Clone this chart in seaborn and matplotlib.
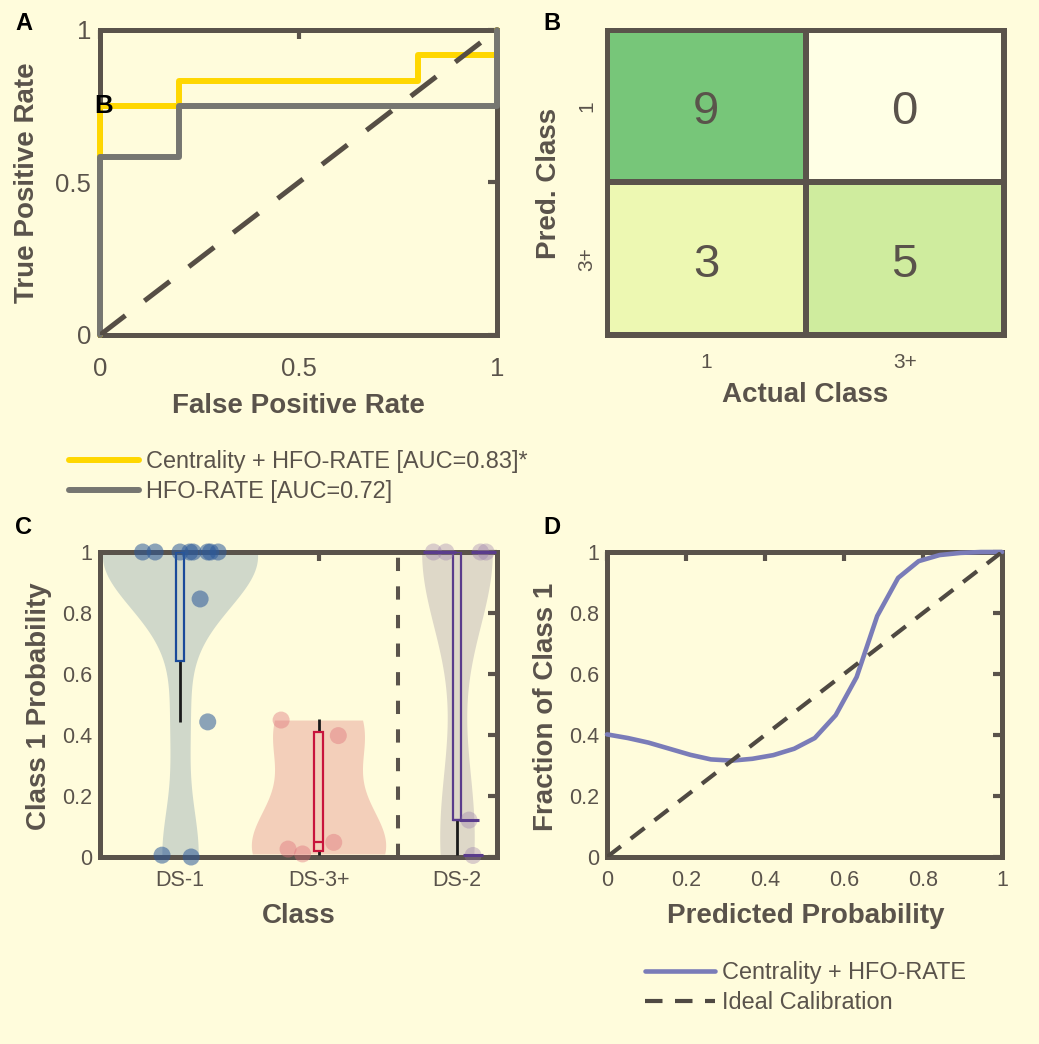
import numpy as np
import pandas as pd
import matplotlib
matplotlib.use("Agg")
import matplotlib.pyplot as plt
import seaborn as sns
from matplotlib.ticker import FuncFormatter
from matplotlib.transforms import offset_copy

# ---------------- data ----------------
roc_fpr_combined = [0.0, 0.0, 0.2, 0.2, 0.8, 0.8, 1.0, 1.0]
roc_tpr_combined = [0.0, 0.75, 0.75, 0.833, 0.833, 0.917, 0.917, 1.0]
roc_fpr_rate = [0.0, 0.0, 0.2, 0.2, 1.0, 1.0]
roc_tpr_rate = [0.0, 0.583, 0.583, 0.75, 0.75, 1.0]
roc_chance = [0.0, 1.0]
roc_labels = ["Centrality + HFO-RATE [AUC=0.83]*", "HFO-RATE [AUC=0.72]"]

cm_values = [[9, 0], [3, 5]]
cm_pred_labels = ["1", "3+"]
cm_actual_labels = ["1", "3+"]

class_names = ["DS-1", "DS-3+", "DS-2"]
ds1_prob = [1.0, 1.0, 1.0, 1.0, 1.0, 1.0, 1.0, 1.0, 0.846, 0.443, 0.006, 0.0]
ds1_jitter = [-0.27, -0.18, 0.0, 0.07, 0.094, 0.20, 0.22, 0.275, 0.145, 0.20, -0.13, 0.08]
ds3_prob = [0.449, 0.398, 0.048, 0.026, 0.01]
ds3_jitter = [-0.27, 0.143, 0.11, -0.22, -0.115]
ds2_prob = [1.0, 1.0, 1.0, 1.0, 0.121, 0.005]
ds2_jitter = [-0.17, -0.08, 0.17, 0.21, 0.087, 0.116]

box_q1 = [0.643, 0.02, 0.121]
box_q3 = [1.0, 0.41, 1.0]
box_median = [1.0, 0.048, 0.121]
whisk_low = [0.443, 0.005, 0.005]
whisk_high = [1.0, 0.451, 1.0]
divider_pos = 1.574

calib_pred = [0.0, 0.053, 0.105, 0.158, 0.211, 0.263, 0.316, 0.368, 0.421, 0.474,
              0.526, 0.579, 0.632, 0.684, 0.737, 0.789, 0.842, 0.895, 0.947, 1.0]
calib_frac = [0.402, 0.39, 0.375, 0.355, 0.335, 0.32, 0.316, 0.322, 0.334, 0.355,
              0.39, 0.465, 0.59, 0.79, 0.915, 0.97, 0.99, 0.997, 1.0, 1.0]
ideal_line = [0.0, 1.0]
calib_labels = ["Centrality + HFO-RATE", "Ideal Calibration"]

# ---------------- style ----------------
sns.set_theme(style="white")
plt.rcParams["font.family"] = ["Liberation Sans", "DejaVu Sans"]

BG = "#FFFCDC"
DARK = "#5A534B"
TXT = "#5A534B"
W, H = 1039, 1044

fig = plt.figure(figsize=(W / 100, H / 100), dpi=100)
fig.patch.set_facecolor(BG)


def px_axes(l, t, r, b):
    ax = fig.add_axes([l / W, 1 - b / H, (r - l) / W, (b - t) / H])
    ax.set_facecolor(BG)
    return ax


def style_axes(ax, xpad, ypad, labelsize):
    for s in ax.spines.values():
        s.set_visible(True)
        s.set_linewidth(3.6)
        s.set_color(DARK)
    ax.tick_params(axis="both", direction="in", length=6.5, width=3.0, color=DARK,
                   top=True, right=True, labelcolor=TXT, labelsize=labelsize)
    ax.tick_params(axis="x", pad=xpad)
    ax.tick_params(axis="y", pad=ypad)
    fmt = FuncFormatter(lambda v, p: f"{v:g}")
    ax.xaxis.set_major_formatter(fmt)
    ax.yaxis.set_major_formatter(fmt)
    ax.set_xlabel("")
    ax.set_ylabel("")


def fig_text(x, y, s, **kw):
    fig.text(x / W, 1 - y / H, s, ha="center", va="center", **kw)


LBL = dict(fontsize=20, fontweight="bold", color=TXT)

# ---------------- panel A : ROC ----------------
axA = px_axes(100, 30, 497, 335)
sns.lineplot(x=roc_fpr_combined, y=roc_tpr_combined, estimator=None, sort=False,
             color="#FFD700", linewidth=4.3, label=roc_labels[0], ax=axA,
             clip_on=False, zorder=4)
sns.lineplot(x=roc_fpr_rate, y=roc_tpr_rate, estimator=None, sort=False,
             color="#767671", linewidth=4.3, label=roc_labels[1], ax=axA,
             clip_on=False, zorder=5)
axA.plot(roc_chance, roc_chance, color="#564E45", linewidth=3.6,
         linestyle=(0, (6.4, 4.8)), zorder=6)
axA.set_xlim(0, 1)
axA.set_ylim(0, 1)
axA.set_xticks([0, 0.5, 1])
axA.set_yticks([0, 0.5, 1])
style_axes(axA, xpad=15.5, ypad=6.5, labelsize=18.5)
h, l = axA.get_legend_handles_labels()
axA.legend(h, l, loc="upper left", bbox_to_anchor=(69 / W, 1 - 450 / H),
           bbox_transform=fig.transFigure, frameon=False, fontsize=16.9,
           handlelength=3.0, handletextpad=0.3, borderpad=0, borderaxespad=0,
           labelspacing=0.3, labelcolor=TXT)
fig_text(298, 406, "False Positive Rate", **LBL)
fig_text(27, 183, "True Positive Rate", rotation=90, **LBL)

# ---------------- panel B : confusion matrix ----------------
axB = px_axes(607, 30, 1004, 335)
cm_df = pd.DataFrame(cm_values, index=cm_pred_labels, columns=cm_actual_labels)
sns.heatmap(cm_df, cmap="YlGn", vmin=0, vmax=18, annot=True, fmt="d",
            annot_kws=dict(size=34, color=TXT), cbar=False, linewidths=2.9,
            linecolor=DARK, ax=axB)
for t in axB.texts:
    t.set_transform(offset_copy(t.get_transform(), fig=fig, x=0, y=-6, units="dots"))
for s in axB.spines.values():
    s.set_visible(True)
    s.set_linewidth(3.6)
    s.set_color(DARK)
axB.tick_params(axis="both", length=0, labelcolor=TXT, labelsize=15)
axB.tick_params(axis="x", pad=13)
axB.tick_params(axis="y", pad=8)
axB.set_yticklabels(cm_pred_labels, rotation=90, va="center")
axB.set_xticklabels(cm_actual_labels, rotation=0)
axB.set_xlabel("")
axB.set_ylabel("")
fig_text(805, 395, "Actual Class", **LBL)
fig_text(549, 183, "Pred. Class", rotation=90, **LBL)

# ---------------- panel C : violins ----------------
axC = px_axes(100, 552, 497, 857)
groups = [ds1_prob, ds3_prob, ds2_prob]
jitters = [ds1_jitter, ds3_jitter, ds2_jitter]
bandwidths = [0.17, 0.15, 0.26]
vwidths = [1.12, 0.97, 0.51]
vcolors = ["#D0D8CA", "#F3CFBA", "#DED8C8"]
pcolors = ["#2D5A9A", "#DE6E78", "#9678AA"]
palphas = [0.55, 0.4, 0.35]
bcolors = ["#1A4A9A", "#C8143C", "#5A3C8C"]

for i, vals in enumerate(groups):
    v = np.asarray(vals, dtype=float)
    sns.violinplot(x=np.full(len(v), float(i)), y=v, native_scale=True, orient="x",
                   cut=0, inner=None, bw_method=bandwidths[i] / np.std(v, ddof=1),
                   width=vwidths[i], color=vcolors[i], saturation=1, linewidth=0,
                   ax=axC, zorder=1)

axC.plot([divider_pos, divider_pos], [0, 1], color=DARK, linewidth=2.9,
         linestyle=(0, (3.3, 3.8)), zorder=2)

positions = np.arange(len(class_names))
q1 = np.array(box_q1)
q3 = np.array(box_q3)
axC.vlines(positions, whisk_low, q1, colors="#1A1A1A", linewidth=2.0, zorder=3)
axC.vlines(positions, q3, whisk_high, colors="#1A1A1A", linewidth=2.0, zorder=3)
axC.bar(positions, q3 - q1, bottom=q1, width=0.062, fill=False,
        edgecolor=bcolors, linewidth=1.6, zorder=4)
axC.hlines(box_median, positions - 0.031, positions + 0.031, colors=bcolors,
           linewidth=1.6, zorder=4)

for i, vals in enumerate(groups):
    xs = i + np.asarray(jitters[i])
    sns.scatterplot(x=xs, y=vals, color=pcolors[i], alpha=palphas[i], s=150,
                    edgecolor="none", ax=axC, zorder=5, clip_on=False, legend=False)
axC.scatter(2 + np.asarray(ds2_jitter), ds2_prob, marker="_", s=200,
            color=bcolors[2], linewidths=2.2, zorder=6, clip_on=False)

axC.set_xlim(-0.578, 2.289)
axC.set_ylim(0, 1)
axC.set_xticks(positions)
axC.set_yticks(np.arange(0, 1.01, 0.2))
style_axes(axC, xpad=9.5, ypad=5.5, labelsize=15.5)
axC.set_xticklabels(class_names)
fig_text(299, 916, "Class", **LBL)
fig_text(39, 706, "Class 1 Probability", rotation=90, **LBL)

# ---------------- panel D : calibration ----------------
axD = px_axes(607, 552, 1002, 857)
sns.lineplot(x=calib_pred, y=calib_frac, estimator=None, sort=False,
             color="#7A7CB8", linewidth=3.3, label=calib_labels[0], ax=axD,
             clip_on=False, zorder=4)
sns.lineplot(x=ideal_line, y=ideal_line, estimator=None, sort=False,
             color="#4F4942", linewidth=3.0, linestyle=(0, (4.2, 3.0)),
             label=calib_labels[1], ax=axD, zorder=5)
axD.set_xlim(0, 1)
axD.set_ylim(0, 1)
axD.set_xticks(np.arange(0, 1.01, 0.2))
axD.set_yticks(np.arange(0, 1.01, 0.2))
style_axes(axD, xpad=9.5, ypad=5.5, labelsize=15.5)
h, l = axD.get_legend_handles_labels()
axD.legend(h, l, loc="upper left", bbox_to_anchor=(645 / W, 1 - 961 / H),
           bbox_transform=fig.transFigure, frameon=False, fontsize=16.9,
           handlelength=3.0, handletextpad=0.3, borderpad=0, borderaxespad=0,
           labelspacing=0.3, labelcolor=TXT)
fig_text(806, 916, "Predicted Probability", **LBL)
fig_text(546, 707, "Fraction of Class 1", rotation=90, **LBL)

# ---------------- panel letters ----------------
PL = dict(fontsize=17, fontweight="bold", color="black")
fig_text(24, 23, "A", **PL)
fig_text(552, 23, "B", **PL)
fig_text(24, 527, "C", **PL)
fig_text(552, 527, "D", **PL)
fig.text(94 / W, 1 - 106 / H, "B", ha="left", va="center", fontsize=18.5,
         fontweight="bold", color="black")

fig.savefig("out.png", dpi=100, facecolor=BG)
